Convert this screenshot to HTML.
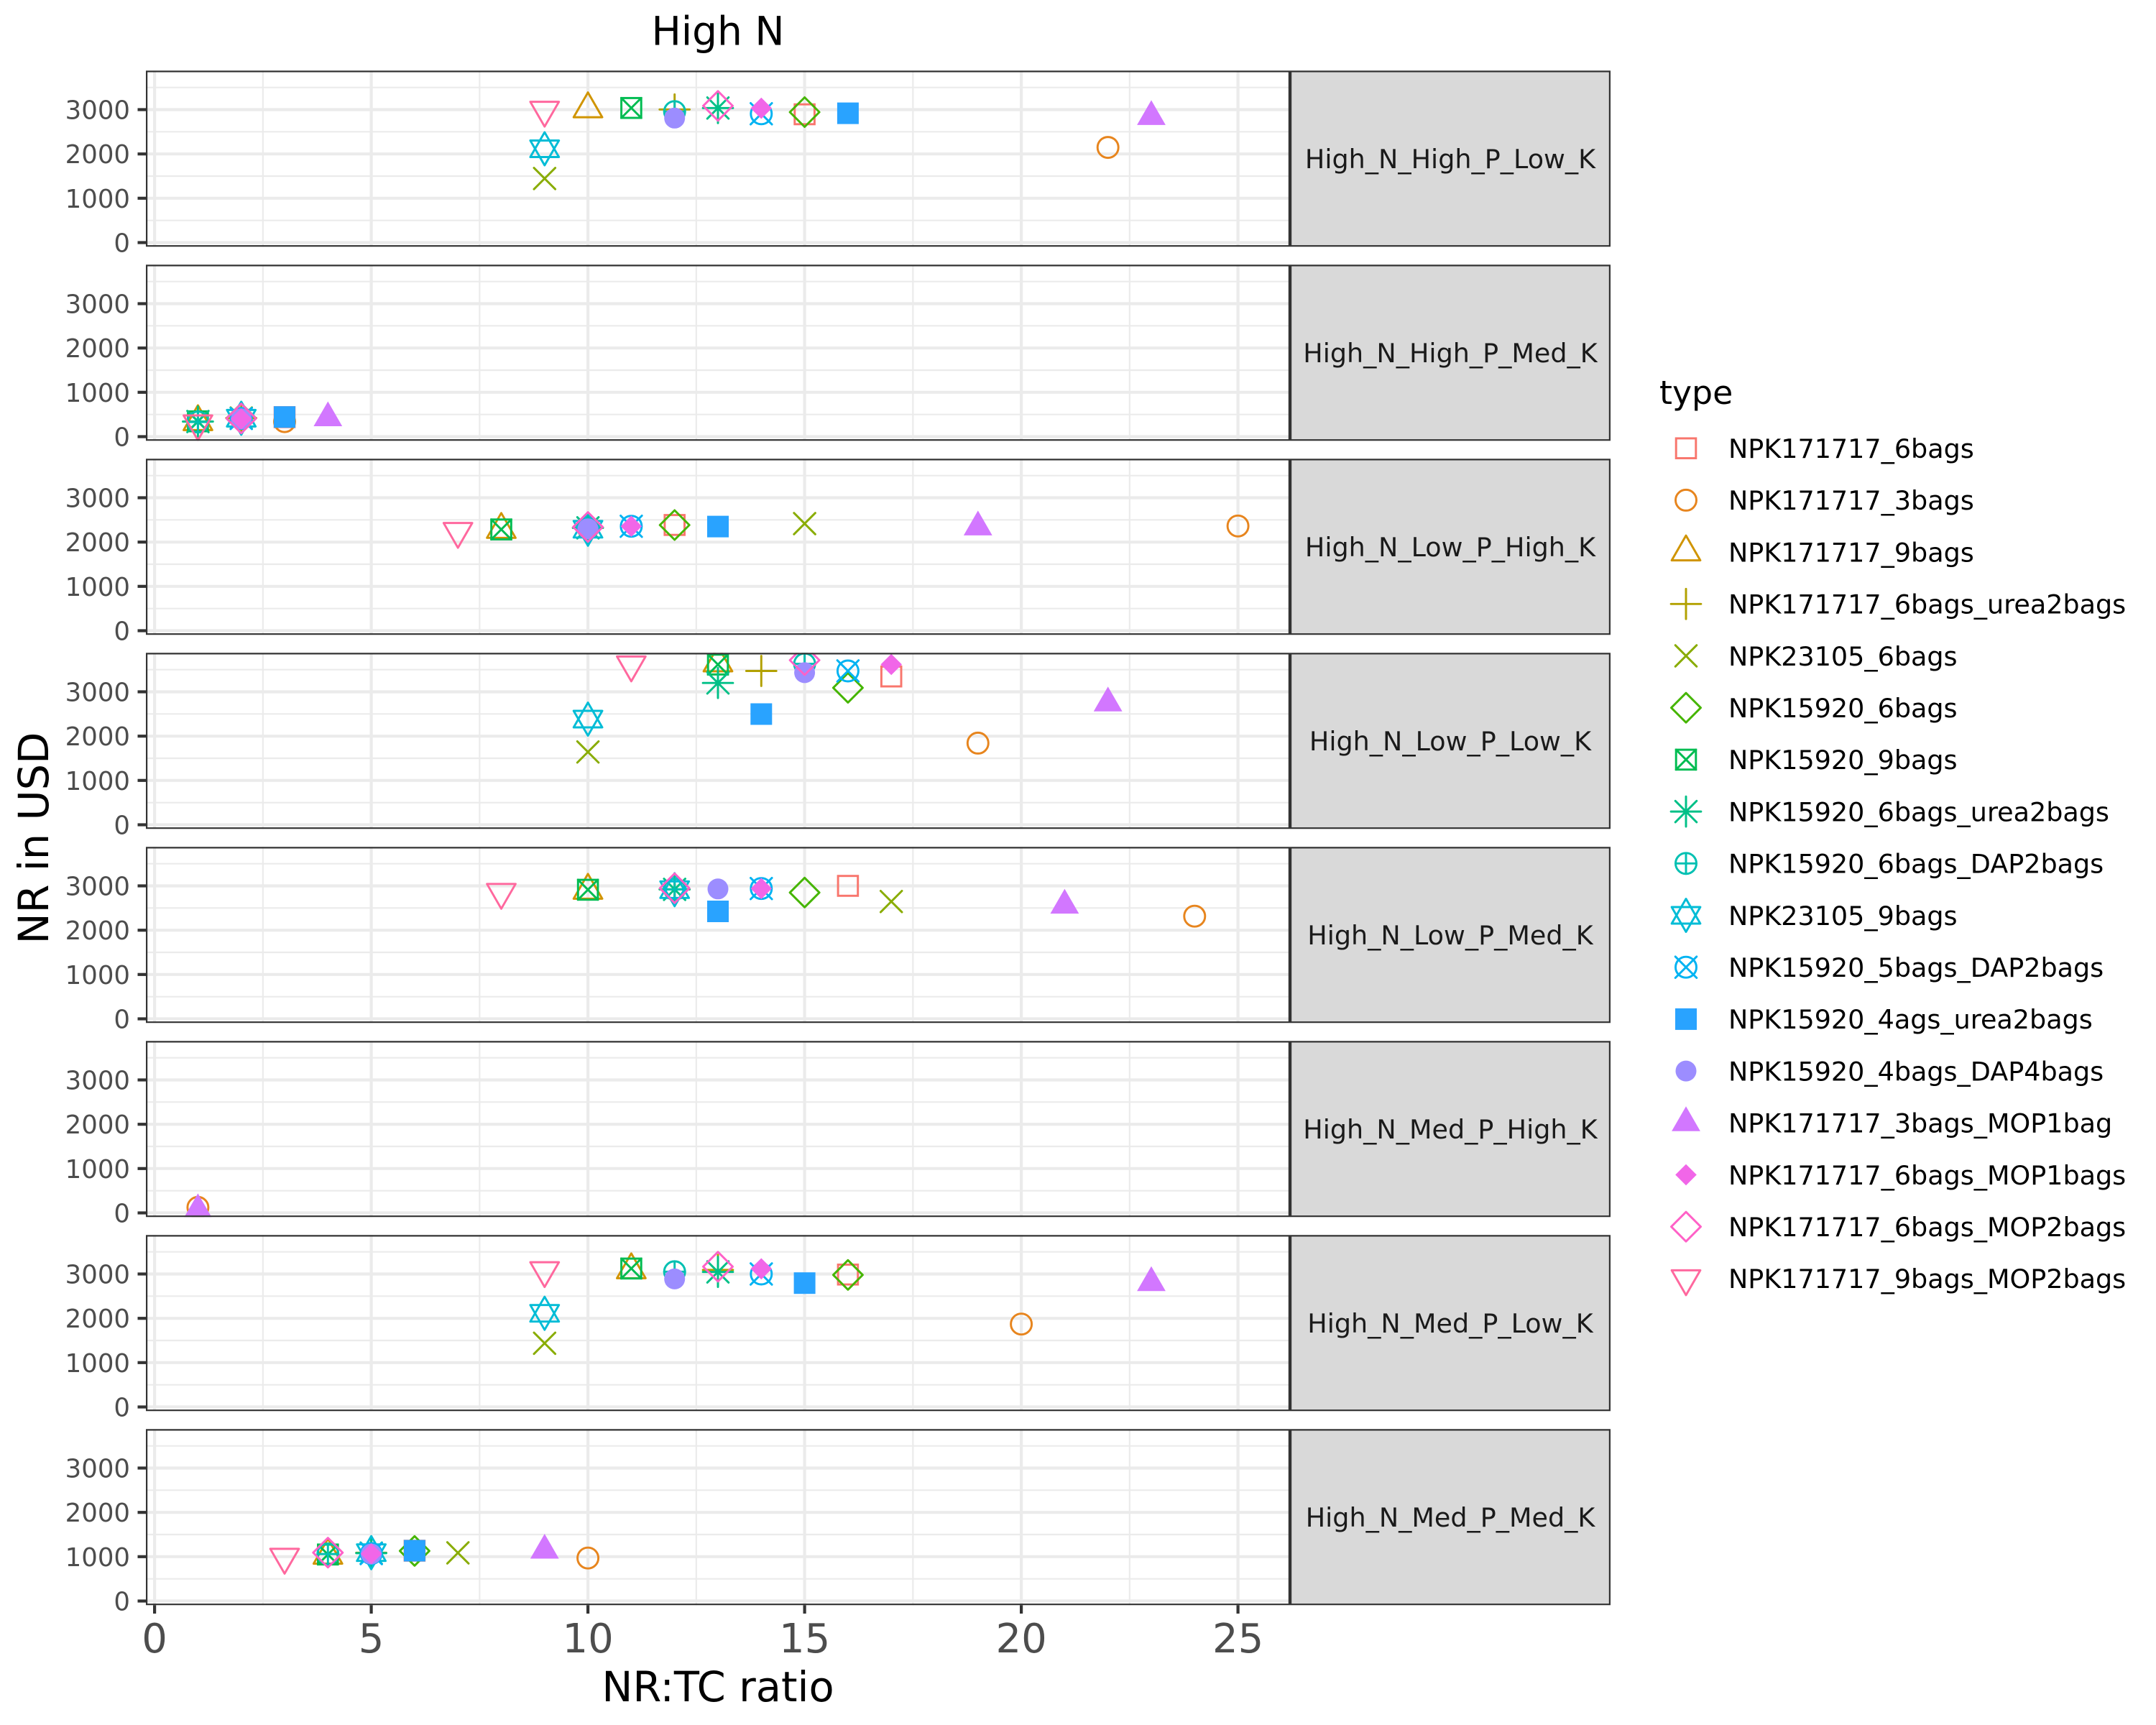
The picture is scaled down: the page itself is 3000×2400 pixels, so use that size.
<!DOCTYPE html>
<html>
<head>
<meta charset="utf-8">
<style>
html,body{margin:0;padding:0;background:#fff;}
svg{display:block;}
text{font-family:"DejaVu Sans","Liberation Sans",sans-serif;}
</style>
</head>
<body>
<svg xmlns="http://www.w3.org/2000/svg" xmlns:xlink="http://www.w3.org/1999/xlink" width="3000" height="2400" viewBox="0 0 3000 2400">
<defs>
  <g id="grid">
    <rect x="0" y="0" width="1592" height="245" fill="#ffffff"/>
    <g stroke="#EBEBEB" stroke-width="2.2">
      <line x1="0" x2="1592" y1="208.4" y2="208.4"/>
      <line x1="0" x2="1592" y1="146.7" y2="146.7"/>
      <line x1="0" x2="1592" y1="85.0" y2="85.0"/>
      <line x1="0" x2="1592" y1="23.4" y2="23.4"/>
      <line y1="0" y2="245" x1="162.85" x2="162.85"/>
      <line y1="0" y2="245" x1="464.35" x2="464.35"/>
      <line y1="0" y2="245" x1="765.85" x2="765.85"/>
      <line y1="0" y2="245" x1="1067.35" x2="1067.35"/>
      <line y1="0" y2="245" x1="1368.85" x2="1368.85"/>
    </g>
    <g stroke="#EBEBEB" stroke-width="4.2">
      <line x1="0" x2="1592" y1="239.2" y2="239.2"/>
      <line x1="0" x2="1592" y1="177.5" y2="177.5"/>
      <line x1="0" x2="1592" y1="115.9" y2="115.9"/>
      <line x1="0" x2="1592" y1="54.2" y2="54.2"/>
      <line y1="0" y2="245" x1="12.1" x2="12.1"/>
      <line y1="0" y2="245" x1="313.6" x2="313.6"/>
      <line y1="0" y2="245" x1="615.1" x2="615.1"/>
      <line y1="0" y2="245" x1="916.6" x2="916.6"/>
      <line y1="0" y2="245" x1="1218.1" x2="1218.1"/>
      <line y1="0" y2="245" x1="1519.6" x2="1519.6"/>
    </g>
  </g>
  <g id="yax">
    <g stroke="#333333" stroke-width="4.2">
      <line x1="191.5" x2="203" y1="239.2" y2="239.2"/>
      <line x1="191.5" x2="203" y1="177.5" y2="177.5"/>
      <line x1="191.5" x2="203" y1="115.9" y2="115.9"/>
      <line x1="191.5" x2="203" y1="54.2" y2="54.2"/>
    </g>
    <g fill="#4D4D4D" font-size="35.5" text-anchor="end">
      <text x="181" y="252.2">0</text>
      <text x="181" y="190.5">1000</text>
      <text x="181" y="128.9">2000</text>
      <text x="181" y="67.2">3000</text>
    </g>
  </g>
  <g id="s1"><rect x="-13.8" y="-13.8" width="27.6" height="27.6" fill="none" stroke="#F8766D" stroke-width="2.95"/></g>
  <g id="s2"><circle r="14.5" fill="none" stroke="#E7851E" stroke-width="2.95"/></g>
  <g id="s3"><polygon points="0,-23 19.9,11.5 -19.9,11.5" fill="none" stroke="#D09400" stroke-width="2.95" stroke-linejoin="round"/></g>
  <g id="s4"><path d="M-20.9 0H20.9M0 -20.9V20.9" fill="none" stroke="#B2A100" stroke-width="2.95" stroke-linecap="round"/></g>
  <g id="s5"><path d="M-14.8 -14.8L14.8 14.8M-14.8 14.8L14.8 -14.8" fill="none" stroke="#89AC00" stroke-width="2.95" stroke-linecap="round"/></g>
  <g id="s6"><polygon points="0,-20.5 20.5,0 0,20.5 -20.5,0" fill="none" stroke="#45B500" stroke-width="2.95" stroke-linejoin="round"/></g>
  <g id="s7" fill="none" stroke="#00BC51" stroke-width="2.95" stroke-linecap="round"><rect x="-13.8" y="-13.8" width="27.6" height="27.6"/><path d="M-13.8 -13.8L13.8 13.8M-13.8 13.8L13.8 -13.8"/></g>
  <g id="s8"><path d="M-20.9 0H20.9M0 -20.9V20.9M-14.8 -14.8L14.8 14.8M-14.8 14.8L14.8 -14.8" fill="none" stroke="#00C087" stroke-width="2.95" stroke-linecap="round"/></g>
  <g id="s9" fill="none" stroke="#00C0B2" stroke-width="2.95" stroke-linecap="round"><circle r="14.5"/><path d="M-14.5 0H14.5M0 -14.5V14.5"/></g>
  <g id="s10" fill="none" stroke="#00BCD6" stroke-width="2.95" stroke-linejoin="round"><polygon points="0,-23 19.9,11.5 -19.9,11.5"/><polygon points="0,23 19.9,-11.5 -19.9,-11.5"/></g>
  <g id="s11" fill="none" stroke="#00B3F2" stroke-width="2.95" stroke-linecap="round"><circle r="14.5"/><path d="M-14.8 -14.8L14.8 14.8M-14.8 14.8L14.8 -14.8"/></g>
  <g id="s12"><rect x="-15" y="-15" width="30" height="30" fill="#29A3FF"/></g>
  <g id="s13"><circle r="14.5" fill="#9C8DFF"/></g>
  <g id="s14"><polygon points="0,-23 19.9,11.5 -19.9,11.5" fill="#D277FF"/></g>
  <g id="s15"><polygon points="0,-14.8 14.8,0 0,14.8 -14.8,0" fill="#F166E8"/></g>
  <g id="s16"><polygon points="0,-20.5 20.5,0 0,20.5 -20.5,0" fill="none" stroke="#FF61C7" stroke-width="2.95" stroke-linejoin="round"/></g>
  <g id="s17"><polygon points="0,23 19.9,-11.5 -19.9,-11.5" fill="none" stroke="#FF689E" stroke-width="2.95" stroke-linejoin="round"/></g>
</defs>

<rect x="0" y="0" width="3000" height="2400" fill="#ffffff"/>

<!-- Title -->
<text x="999" y="62.5" font-size="55" text-anchor="middle" fill="#000000">High N</text>

<!-- Panel 1 -->
<svg x="203" y="98.3" width="1592" height="245" overflow="hidden">
  <use href="#grid"/>
  <use href="#s1" x="916.6" y="60.7"/>
  <use href="#s2" x="1338.7" y="106.8"/>
  <use href="#s3" x="615.1" y="53.3"/>
  <use href="#s4" x="735.7" y="54.0"/>
  <use href="#s5" x="554.8" y="150.1"/>
  <use href="#s6" x="916.6" y="57.7"/>
  <use href="#s7" x="675.4" y="51.9"/>
  <use href="#s8" x="796.0" y="52.0"/>
  <use href="#s9" x="735.7" y="57.0"/>
  <use href="#s10" x="554.8" y="108.7"/>
  <use href="#s11" x="856.3" y="60.0"/>
  <use href="#s12" x="976.9" y="59.3"/>
  <use href="#s13" x="735.7" y="66.0"/>
  <use href="#s14" x="1399.0" y="64.1"/>
  <use href="#s15" x="856.3" y="52.3"/>
  <use href="#s16" x="796.0" y="49.0"/>
  <use href="#s17" x="554.8" y="54.8"/>
  <rect x="0" y="0" width="1592" height="245" fill="none" stroke="#333333" stroke-width="4.4"/>
</svg>

<!-- Panel 2 -->
<svg x="203" y="368.3" width="1592" height="245" overflow="hidden">
  <use href="#grid"/>
  <use href="#s1" x="193.0" y="212.1"/>
  <use href="#s2" x="193.0" y="218.3"/>
  <use href="#s3" x="72.4" y="218.6"/>
  <use href="#s4" x="132.7" y="213.3"/>
  <use href="#s5" x="132.7" y="213.3"/>
  <use href="#s6" x="132.7" y="213.6"/>
  <use href="#s7" x="72.4" y="217.9"/>
  <use href="#s8" x="72.4" y="218.2"/>
  <use href="#s9" x="72.4" y="218.9"/>
  <use href="#s10" x="132.7" y="213.6"/>
  <use href="#s11" x="132.7" y="213.9"/>
  <use href="#s12" x="193.0" y="211.9"/>
  <use href="#s13" x="132.7" y="214.5"/>
  <use href="#s14" x="253.3" y="213.2"/>
  <use href="#s15" x="132.7" y="214.6"/>
  <use href="#s16" x="132.7" y="213.9"/>
  <use href="#s17" x="72.4" y="221.2"/>
  <rect x="0" y="0" width="1592" height="245" fill="none" stroke="#333333" stroke-width="4.4"/>
</svg>

<!-- Panel 3 -->
<svg x="203" y="638.3" width="1592" height="245" overflow="hidden">
  <use href="#grid"/>
  <use href="#s1" x="735.7" y="92.1"/>
  <use href="#s2" x="1519.6" y="93.5"/>
  <use href="#s3" x="494.5" y="98.5"/>
  <use href="#s4" x="615.1" y="96.1"/>
  <use href="#s5" x="916.6" y="90.2"/>
  <use href="#s6" x="735.7" y="92.2"/>
  <use href="#s7" x="494.5" y="98.3"/>
  <use href="#s8" x="615.1" y="96.1"/>
  <use href="#s9" x="615.1" y="96.1"/>
  <use href="#s10" x="615.1" y="98.0"/>
  <use href="#s11" x="675.4" y="93.9"/>
  <use href="#s12" x="796.0" y="94.3"/>
  <use href="#s13" x="615.1" y="97.4"/>
  <use href="#s14" x="1157.8" y="95.1"/>
  <use href="#s15" x="675.4" y="93.9"/>
  <use href="#s16" x="615.1" y="94.9"/>
  <use href="#s17" x="434.2" y="100.8"/>
  <rect x="0" y="0" width="1592" height="245" fill="none" stroke="#333333" stroke-width="4.4"/>
</svg>

<!-- Panel 4 -->
<svg x="203" y="908.3" width="1592" height="245" overflow="hidden">
  <use href="#grid"/>
  <use href="#s1" x="1037.2" y="32.9"/>
  <use href="#s2" x="1157.8" y="125.6"/>
  <use href="#s3" x="796.0" y="14.2"/>
  <use href="#s4" x="856.3" y="25.2"/>
  <use href="#s5" x="615.1" y="137.9"/>
  <use href="#s6" x="976.9" y="48.6"/>
  <use href="#s7" x="796.0" y="16.3"/>
  <use href="#s8" x="796.0" y="41.9"/>
  <use href="#s9" x="916.6" y="15.3"/>
  <use href="#s10" x="615.1" y="92.2"/>
  <use href="#s11" x="976.9" y="25.2"/>
  <use href="#s12" x="856.3" y="85.2"/>
  <use href="#s13" x="916.6" y="27.6"/>
  <use href="#s14" x="1338.7" y="69.9"/>
  <use href="#s15" x="1037.2" y="16.2"/>
  <use href="#s16" x="916.6" y="10.2"/>
  <use href="#s17" x="675.4" y="16.6"/>
  <rect x="0" y="0" width="1592" height="245" fill="none" stroke="#333333" stroke-width="4.4"/>
</svg>

<!-- Panel 5 -->
<svg x="203" y="1178.3" width="1592" height="245" overflow="hidden">
  <use href="#grid"/>
  <use href="#s1" x="976.9" y="54.2"/>
  <use href="#s2" x="1459.3" y="96.4"/>
  <use href="#s3" x="615.1" y="60.6"/>
  <use href="#s4" x="735.7" y="59.1"/>
  <use href="#s5" x="1037.2" y="76.0"/>
  <use href="#s6" x="916.6" y="63.5"/>
  <use href="#s7" x="615.1" y="59.6"/>
  <use href="#s8" x="735.7" y="59.1"/>
  <use href="#s9" x="735.7" y="59.1"/>
  <use href="#s10" x="735.7" y="59.5"/>
  <use href="#s11" x="856.3" y="57.9"/>
  <use href="#s12" x="796.0" y="89.7"/>
  <use href="#s13" x="796.0" y="58.5"/>
  <use href="#s14" x="1278.4" y="81.3"/>
  <use href="#s15" x="856.3" y="57.9"/>
  <use href="#s16" x="735.7" y="57.5"/>
  <use href="#s17" x="494.5" y="63.0"/>
  <rect x="0" y="0" width="1592" height="245" fill="none" stroke="#333333" stroke-width="4.4"/>
</svg>

<!-- Panel 6 -->
<svg x="203" y="1448.3" width="1592" height="245" overflow="hidden">
  <use href="#grid"/>
  <use href="#s2" x="72.4" y="231.6"/>
  <use href="#s14" x="72.4" y="235.1"/>
  <rect x="0" y="0" width="1592" height="245" fill="none" stroke="#333333" stroke-width="4.4"/>
</svg>

<!-- Panel 7 -->
<svg x="203" y="1718.3" width="1592" height="245" overflow="hidden">
  <use href="#grid"/>
  <use href="#s1" x="976.9" y="55.0"/>
  <use href="#s2" x="1218.1" y="123.9"/>
  <use href="#s3" x="675.4" y="48.6"/>
  <use href="#s4" x="796.0" y="48.6"/>
  <use href="#s5" x="554.8" y="150.6"/>
  <use href="#s6" x="976.9" y="55.5"/>
  <use href="#s7" x="675.4" y="46.6"/>
  <use href="#s8" x="796.0" y="51.3"/>
  <use href="#s9" x="735.7" y="51.1"/>
  <use href="#s10" x="554.8" y="108.9"/>
  <use href="#s11" x="856.3" y="54.2"/>
  <use href="#s12" x="916.6" y="66.9"/>
  <use href="#s13" x="735.7" y="61.1"/>
  <use href="#s14" x="1399.0" y="66.5"/>
  <use href="#s15" x="856.3" y="47.0"/>
  <use href="#s16" x="796.0" y="44.0"/>
  <use href="#s17" x="554.8" y="49.3"/>
  <rect x="0" y="0" width="1592" height="245" fill="none" stroke="#333333" stroke-width="4.4"/>
</svg>

<!-- Panel 8 -->
<svg x="203" y="1988.3" width="1592" height="245" overflow="hidden">
  <use href="#grid"/>
  <use href="#s1" x="373.9" y="169.2"/>
  <use href="#s2" x="615.1" y="179.4"/>
  <use href="#s3" x="253.3" y="175.7"/>
  <use href="#s4" x="313.6" y="172.0"/>
  <use href="#s5" x="434.2" y="172.2"/>
  <use href="#s6" x="373.9" y="169.5"/>
  <use href="#s7" x="253.3" y="174.5"/>
  <use href="#s8" x="313.6" y="172.6"/>
  <use href="#s9" x="253.3" y="173.8"/>
  <use href="#s10" x="313.6" y="171.9"/>
  <use href="#s11" x="313.6" y="173.2"/>
  <use href="#s12" x="373.9" y="169.2"/>
  <use href="#s13" x="313.6" y="173.8"/>
  <use href="#s14" x="554.8" y="168.7"/>
  <use href="#s15" x="313.6" y="173.5"/>
  <use href="#s16" x="253.3" y="171.9"/>
  <use href="#s17" x="193.0" y="178.1"/>
  <rect x="0" y="0" width="1592" height="245" fill="none" stroke="#333333" stroke-width="4.4"/>
</svg>

<!-- Y axes -->
<use href="#yax" x="0" y="98.3"/>
<use href="#yax" x="0" y="368.3"/>
<use href="#yax" x="0" y="638.3"/>
<use href="#yax" x="0" y="908.3"/>
<use href="#yax" x="0" y="1178.3"/>
<use href="#yax" x="0" y="1448.3"/>
<use href="#yax" x="0" y="1718.3"/>
<use href="#yax" x="0" y="1988.3"/>

<!-- Strips -->
<g font-size="36.5" fill="#1A1A1A" text-anchor="middle">
  <svg x="1795" y="98.3" width="446" height="245" overflow="hidden"><rect x="0" y="0" width="446" height="245" fill="#D9D9D9" stroke="#333333" stroke-width="4.4"/><text x="223" y="135.8">High_N_High_P_Low_K</text></svg>
  <svg x="1795" y="368.3" width="446" height="245" overflow="hidden"><rect x="0" y="0" width="446" height="245" fill="#D9D9D9" stroke="#333333" stroke-width="4.4"/><text x="223" y="135.8">High_N_High_P_Med_K</text></svg>
  <svg x="1795" y="638.3" width="446" height="245" overflow="hidden"><rect x="0" y="0" width="446" height="245" fill="#D9D9D9" stroke="#333333" stroke-width="4.4"/><text x="223" y="135.8">High_N_Low_P_High_K</text></svg>
  <svg x="1795" y="908.3" width="446" height="245" overflow="hidden"><rect x="0" y="0" width="446" height="245" fill="#D9D9D9" stroke="#333333" stroke-width="4.4"/><text x="223" y="135.8">High_N_Low_P_Low_K</text></svg>
  <svg x="1795" y="1178.3" width="446" height="245" overflow="hidden"><rect x="0" y="0" width="446" height="245" fill="#D9D9D9" stroke="#333333" stroke-width="4.4"/><text x="223" y="135.8">High_N_Low_P_Med_K</text></svg>
  <svg x="1795" y="1448.3" width="446" height="245" overflow="hidden"><rect x="0" y="0" width="446" height="245" fill="#D9D9D9" stroke="#333333" stroke-width="4.4"/><text x="223" y="135.8">High_N_Med_P_High_K</text></svg>
  <svg x="1795" y="1718.3" width="446" height="245" overflow="hidden"><rect x="0" y="0" width="446" height="245" fill="#D9D9D9" stroke="#333333" stroke-width="4.4"/><text x="223" y="135.8">High_N_Med_P_Low_K</text></svg>
  <svg x="1795" y="1988.3" width="446" height="245" overflow="hidden"><rect x="0" y="0" width="446" height="245" fill="#D9D9D9" stroke="#333333" stroke-width="4.4"/><text x="223" y="135.8">High_N_Med_P_Med_K</text></svg>
</g>

<!-- X axis -->
<g stroke="#333333" stroke-width="4.2">
  <line x1="215.1" x2="215.1" y1="2233.3" y2="2245"/>
  <line x1="516.6" x2="516.6" y1="2233.3" y2="2245"/>
  <line x1="818.1" x2="818.1" y1="2233.3" y2="2245"/>
  <line x1="1119.6" x2="1119.6" y1="2233.3" y2="2245"/>
  <line x1="1421.1" x2="1421.1" y1="2233.3" y2="2245"/>
  <line x1="1722.6" x2="1722.6" y1="2233.3" y2="2245"/>
</g>
<g fill="#4D4D4D" font-size="56" text-anchor="middle">
  <text x="215.1" y="2299">0</text>
  <text x="516.6" y="2299">5</text>
  <text x="818.1" y="2299">10</text>
  <text x="1119.6" y="2299">15</text>
  <text x="1421.1" y="2299">20</text>
  <text x="1722.6" y="2299">25</text>
</g>

<!-- Axis titles -->
<text x="999" y="2367" font-size="57.5" text-anchor="middle" fill="#000000">NR:TC ratio</text>
<text transform="translate(67,1166) rotate(-90)" font-size="57.5" text-anchor="middle" fill="#000000">NR in USD</text>

<!-- Legend -->
<text x="2309" y="562" font-size="45.8" fill="#000000">type</text>
<use href="#s1" x="2346" y="623.7"/>
<use href="#s2" x="2346" y="695.9"/>
<use href="#s3" x="2346" y="768.1"/>
<use href="#s4" x="2346" y="840.3"/>
<use href="#s5" x="2346" y="912.5"/>
<use href="#s6" x="2346" y="984.7"/>
<use href="#s7" x="2346" y="1056.9"/>
<use href="#s8" x="2346" y="1129.1"/>
<use href="#s9" x="2346" y="1201.3"/>
<use href="#s10" x="2346" y="1273.5"/>
<use href="#s11" x="2346" y="1345.7"/>
<use href="#s12" x="2346" y="1417.9"/>
<use href="#s13" x="2346" y="1490.1"/>
<use href="#s14" x="2346" y="1562.3"/>
<use href="#s15" x="2346" y="1634.5"/>
<use href="#s16" x="2346" y="1706.7"/>
<use href="#s17" x="2346" y="1778.9"/>
<g font-size="36.5" fill="#000000">
  <text x="2405" y="637">NPK171717_6bags</text>
  <text x="2405" y="709.2">NPK171717_3bags</text>
  <text x="2405" y="781.4">NPK171717_9bags</text>
  <text x="2405" y="853.6">NPK171717_6bags_urea2bags</text>
  <text x="2405" y="925.8">NPK23105_6bags</text>
  <text x="2405" y="998">NPK15920_6bags</text>
  <text x="2405" y="1070.2">NPK15920_9bags</text>
  <text x="2405" y="1142.4">NPK15920_6bags_urea2bags</text>
  <text x="2405" y="1214.6">NPK15920_6bags_DAP2bags</text>
  <text x="2405" y="1286.8">NPK23105_9bags</text>
  <text x="2405" y="1359">NPK15920_5bags_DAP2bags</text>
  <text x="2405" y="1431.2">NPK15920_4ags_urea2bags</text>
  <text x="2405" y="1503.4">NPK15920_4bags_DAP4bags</text>
  <text x="2405" y="1575.6">NPK171717_3bags_MOP1bag</text>
  <text x="2405" y="1647.8">NPK171717_6bags_MOP1bags</text>
  <text x="2405" y="1720">NPK171717_6bags_MOP2bags</text>
  <text x="2405" y="1792.2">NPK171717_9bags_MOP2bags</text>
</g>
</svg>
</body>
</html>
